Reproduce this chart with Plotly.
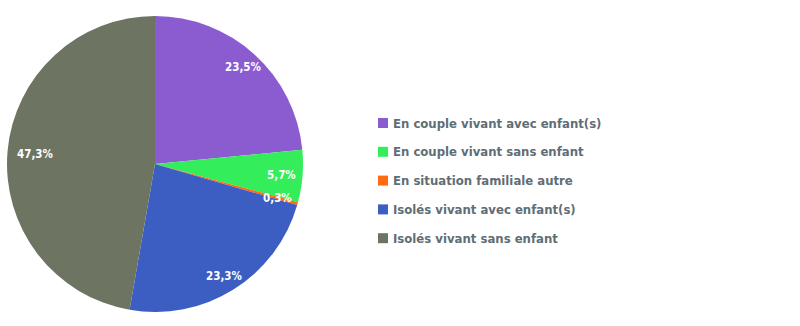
import math
import plotly.graph_objects as go

categories = [
    "En couple vivant avec enfant(s)",
    "En couple vivant sans enfant",
    "En situation familiale autre",
    "Isolés vivant avec enfant(s)",
    "Isolés vivant sans enfant",
]
values = [23.5, 5.7, 0.3, 23.3, 47.3]
value_labels = ["23,5%", "5,7%", "0,3%", "23,3%", "47,3%"]
colors = ["#8a5cd0", "#33ee5a", "#ff6a13", "#3c5ec2", "#6d7461"]

W, H = 800, 326
cx, cy, R = 155, 164, 148  # pie centre and radius in pixels
FONT = "DejaVu Sans Condensed, sans-serif"

fig = go.Figure()
fig.add_trace(go.Pie(
    labels=categories,
    values=values,
    marker=dict(colors=colors, line=dict(width=0)),
    sort=False,
    direction="clockwise",
    rotation=0,
    textinfo="none",
    hoverinfo="label+percent",
    showlegend=False,
    domain=dict(x=[(cx - R) / W, (cx + R) / W], y=[1 - (cy + R) / H, 1 - (cy - R) / H]),
))

annotations = []
total = sum(values)
cum = 0.0
for v, lab in zip(values, value_labels):
    mid = (cum + v / 2) / total * 2 * math.pi
    cum += v
    r = (0.81 if v > 40 else (0.89 if v > 20 else 0.86)) * R
    px = cx + r * math.sin(mid)
    py = cy - r * math.cos(mid)
    annotations.append(dict(
        x=px / W, y=1 - py / H, xref="paper", yref="paper",
        text=f"<b>{lab}</b>", showarrow=False, xanchor="center", yanchor="middle",
        font=dict(family=FONT, size=11.5, color="white"),
    ))

shapes = []
leg_x0, leg_y0, leg_dy = 378, 123, 28.8
for i, (cat, col) in enumerate(zip(categories, colors)):
    yc = leg_y0 + i * leg_dy
    shapes.append(dict(
        type="rect", xref="paper", yref="paper",
        x0=leg_x0 / W, x1=(leg_x0 + 10) / W,
        y0=1 - (yc + 5) / H, y1=1 - (yc - 5) / H,
        fillcolor=col, line=dict(width=0),
    ))
    annotations.append(dict(
        x=(leg_x0 + 13) / W, y=1 - yc / H, xref="paper", yref="paper",
        text=f"<b>{cat}</b>", showarrow=False, xanchor="left", yanchor="middle",
        font=dict(family=FONT, size=13, color="#5f6e76"),
    ))

fig.update_layout(
    width=W, height=H,
    margin=dict(l=0, r=0, t=0, b=0),
    paper_bgcolor="white", plot_bgcolor="white",
    annotations=annotations, shapes=shapes,
    font=dict(family=FONT),
)
fig.write_html("out.html")
